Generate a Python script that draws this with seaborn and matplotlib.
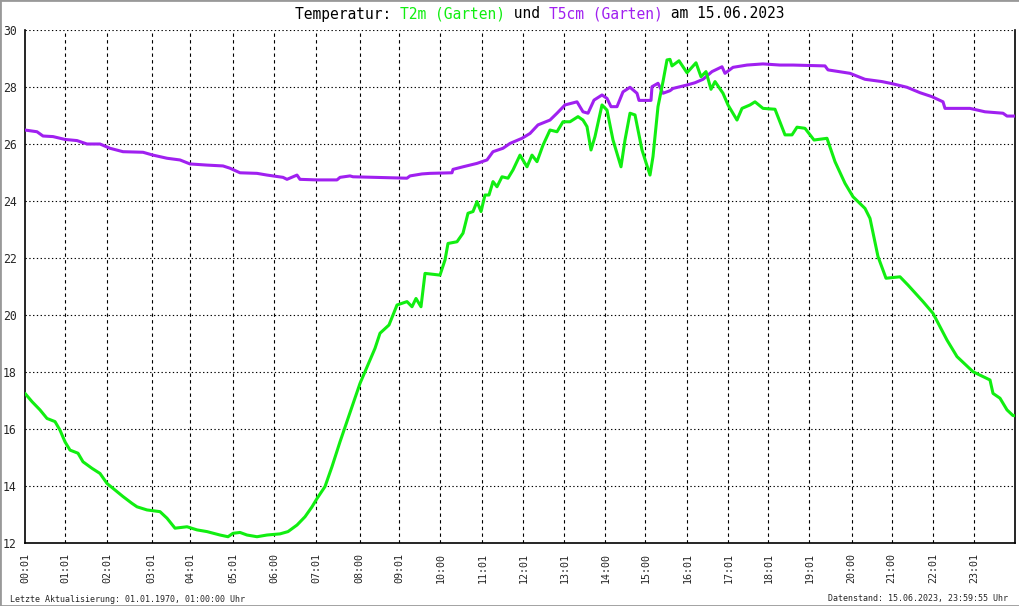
import matplotlib
matplotlib.use("Agg")
import matplotlib.pyplot as plt
import seaborn as sns
import pandas as pd
from matplotlib.patches import Rectangle

# ---- data (x = measurement index across the day, 0..990) ----
t2m_idx = [0, 7, 15, 22, 30, 35, 40, 45, 53, 58, 67, 75, 82, 90, 98, 107, 112, 122, 135, 142,
           150, 162, 172, 182, 195, 203, 208, 215, 222, 232, 242, 255, 263, 272, 280, 287, 292,
           300, 307, 315, 335, 350, 355, 364, 372, 382, 387, 391, 396, 400, 415, 420, 423, 432,
           438, 443, 448, 452, 456, 460, 464, 468, 472, 477, 483, 488, 495, 502, 507, 512, 518,
           525, 532, 538, 545, 553, 558, 562, 566, 570, 577, 582, 588, 596, 600, 605, 610, 617,
           625, 628, 633, 638, 642, 645, 647, 654, 662, 671, 676, 681, 686, 690, 698, 703, 712,
           717, 725, 730, 738, 750, 760, 767, 772, 780, 789, 802, 810, 820, 828, 840, 845, 853,
           861, 875, 883, 898, 908, 922, 932, 948, 965, 968, 975, 982, 988, 990]
t2m_val = [17.25, 16.96, 16.67, 16.37, 16.26, 15.96, 15.55, 15.26, 15.15, 14.85, 14.62, 14.44,
           14.09, 13.86, 13.63, 13.39, 13.27, 13.16, 13.10, 12.87, 12.52, 12.57, 12.46, 12.40,
           12.28, 12.22, 12.34, 12.37, 12.28, 12.22, 12.28, 12.32, 12.40, 12.63, 12.92, 13.27,
           13.56, 13.98, 14.68, 15.55, 17.60, 18.83, 19.36, 19.65, 20.35, 20.47, 20.29, 20.58,
           20.29, 21.46, 21.40, 21.93, 22.51, 22.57, 22.87, 23.57, 23.63, 23.98, 23.63, 24.21,
           24.21, 24.68, 24.50, 24.85, 24.80, 25.09, 25.61, 25.20, 25.61, 25.38, 25.96, 26.49,
           26.43, 26.78, 26.78, 26.96, 26.84, 26.61, 25.79, 26.26, 27.37, 27.19, 26.14, 25.20,
           26.14, 27.08, 27.02, 25.79, 24.91, 25.56, 27.31, 28.19, 28.95, 28.97, 28.74, 28.92,
           28.50, 28.85, 28.36, 28.54, 27.92, 28.19, 27.78, 27.37, 26.84, 27.25, 27.37, 27.48,
           27.25, 27.22, 26.32, 26.32, 26.59, 26.55, 26.14, 26.20, 25.38, 24.62, 24.15, 23.74,
           23.39, 22.05, 21.29, 21.34, 21.05, 20.47, 20.06, 19.12, 18.54, 18.01, 17.72, 17.25,
           17.08, 16.67, 16.47, 16.47]

t5cm_idx = [0, 12, 18, 28, 40, 52, 62, 75, 85, 98, 118, 128, 142, 155, 165, 182, 198, 205,
            215, 232, 242, 258, 262, 272, 275, 292, 312, 315, 325, 328, 382, 385, 397, 405,
            427, 428, 438, 452, 462, 468, 478, 485, 497, 505, 513, 525, 532, 540, 552, 558,
            563, 569, 577, 582, 586, 592, 598, 605, 612, 614, 626, 627, 633, 638, 645, 648,
            662, 670, 678, 687, 697, 700, 708, 722, 738, 755, 768, 800, 803, 825, 840, 857,
            868, 882, 895, 907, 918, 920, 945, 960, 978, 982, 990]
t5cm_val = [26.49, 26.43, 26.28, 26.26, 26.16, 26.12, 26.00, 26.00, 25.85, 25.73, 25.71, 25.61,
            25.50, 25.44, 25.30, 25.26, 25.23, 25.15, 24.99, 24.97, 24.91, 24.83, 24.76, 24.91,
            24.76, 24.74, 24.74, 24.83, 24.88, 24.85, 24.80, 24.88, 24.95, 24.97, 24.99, 25.11,
            25.20, 25.32, 25.44, 25.73, 25.85, 26.02, 26.20, 26.37, 26.67, 26.84, 27.08, 27.37,
            27.48, 27.13, 27.08, 27.54, 27.72, 27.60, 27.31, 27.31, 27.83, 27.99, 27.78, 27.53,
            27.53, 28.01, 28.13, 27.78, 27.87, 27.95, 28.07, 28.15, 28.27, 28.54, 28.71, 28.48,
            28.69, 28.77, 28.81, 28.77, 28.77, 28.74, 28.60, 28.48, 28.27, 28.19, 28.11, 27.99,
            27.80, 27.66, 27.48, 27.25, 27.25, 27.13, 27.08, 26.98, 26.98]

tick_idx = [0.5, 40.3, 82.3, 126.7, 165.3, 208.3, 249.3, 291, 334.7, 374.3, 415.3, 457.3,
            498.3, 539.3, 580.3, 620.3, 662.3, 703.3, 743.3, 784.3, 826.7, 866.7, 908.3, 949.3]
tick_labels = ["00:01", "01:01", "02:01", "03:01", "04:01", "05:01", "06:00", "07:01",
               "08:00", "09:01", "10:00", "11:01", "12:01", "13:01", "14:00", "15:00",
               "16:01", "17:01", "18:01", "19:01", "20:00", "21:00", "22:01", "23:01"]
y_ticks = [12, 14, 16, 18, 20, 22, 24, 26, 28, 30]

GREEN = "#11ee11"
PURPLE = "#a020f0"

sns.set_theme(style="white")
plt.rcParams["font.family"] = ["DejaVu Sans Mono", "DejaVu Sans"]

fig = plt.figure(figsize=(10.2, 6.06), dpi=100)
ax = fig.add_axes([25 / 1020, 1 - 543 / 606, 990 / 1020, 513 / 606])

df_t2 = pd.DataFrame({"idx": t2m_idx, "val": t2m_val})
df_t5 = pd.DataFrame({"idx": t5cm_idx, "val": t5cm_val})

ax.set_xlim(0, 990)
ax.set_ylim(12, 30)

# grid
for x in tick_idx[1:]:
    ax.axvline(x, color="black", lw=0.8, ls=(0, (3, 3)), zorder=1)
for y in y_ticks[1:]:
    ax.axhline(y, color="black", lw=0.8, ls=(0, (1.2, 2.2)), zorder=1)

sns.lineplot(data=df_t5, x="idx", y="val", ax=ax, color=PURPLE, lw=2.2, zorder=3)
sns.lineplot(data=df_t2, x="idx", y="val", ax=ax, color=GREEN, lw=2.2, zorder=4)

ax.set_xlabel("")
ax.set_ylabel("")
ax.set_xticks(tick_idx)
ax.set_xticklabels(tick_labels, rotation=90, fontsize=7.2, va="top")
ax.set_yticks(y_ticks)
ax.set_yticklabels([str(v) for v in y_ticks], fontsize=8.3)
ax.tick_params(axis="y", direction="out", length=5, width=1, color="black", pad=1)
ax.tick_params(axis="x", length=0, pad=7)
ax.grid(False)
for s in ["left", "bottom", "right"]:
    ax.spines[s].set_visible(True)
    ax.spines[s].set_color("black")
    ax.spines[s].set_linewidth(1.2)
ax.spines["top"].set_visible(False)

# title in coloured pieces
parts = [("Temperatur: ", "black"), ("T2m (Garten)", GREEN), (" und ", "black"),
         ("T5cm (Garten)", PURPLE), (" am 15.06.2023", "black")]
fig.canvas.draw()
renderer = fig.canvas.get_renderer()
texts = []
for s, c in parts:
    t = fig.text(0, 1 - 14 / 606, s, color=c, fontsize=10.5, va="center", ha="left")
    texts.append(t)
widths = []
for t in texts:
    bb = t.get_window_extent(renderer)
    widths.append(bb.width)
total = sum(widths)
cur = (1020 - total) / 2 + 30
for t, w in zip(texts, widths):
    t.set_x(cur / 1020)
    cur += w

fig.text(10 / 1020, 1 - 599 / 606, "Letzte Aktualisierung: 01.01.1970, 01:00:00 Uhr",
         fontsize=6, va="center", ha="left")
fig.text(1008 / 1020, 1 - 599 / 606, "Datenstand: 15.06.2023, 23:59:55 Uhr",
         fontsize=6, va="center", ha="right")

fig.patches.append(Rectangle((0, 0), 1, 1, transform=fig.transFigure, fill=False,
                             edgecolor="#999999", lw=2, zorder=10))

fig.savefig("out.png", dpi=100)
